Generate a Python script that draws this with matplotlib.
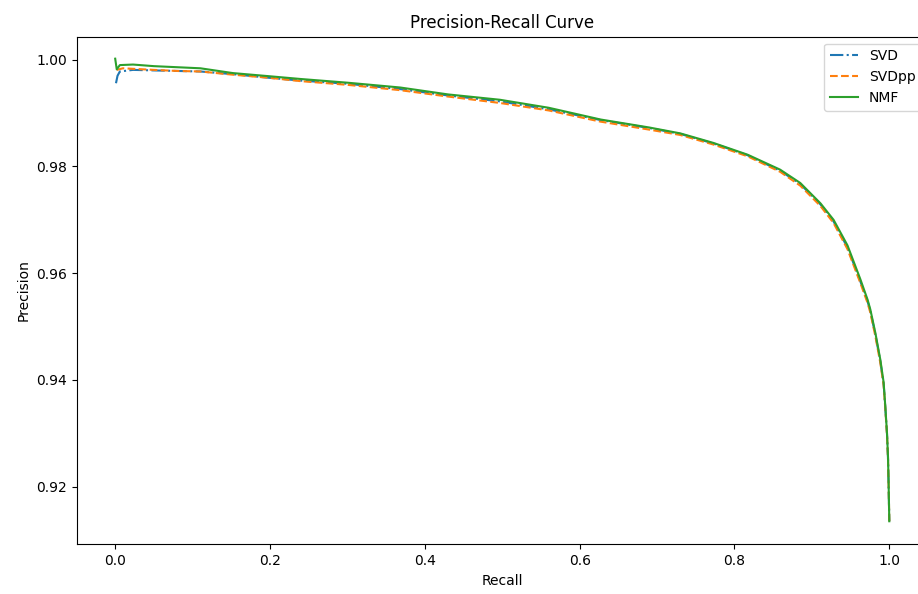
import matplotlib
matplotlib.use("Agg")
import matplotlib.pyplot as plt

# Precision-recall points per model
recall_nmf = [0.0, 0.002, 0.006, 0.023, 0.05, 0.08, 0.11, 0.152, 0.2, 0.239, 0.3, 0.368,
              0.43, 0.497, 0.56, 0.627, 0.69, 0.730, 0.773, 0.817, 0.859, 0.885, 0.911,
              0.928, 0.946, 0.9625, 0.972, 0.9755, 0.982, 0.9884, 0.9927, 0.9948, 0.997,
              0.9983, 0.9991, 1.0]
precision_nmf = [1.0002, 0.9982, 0.9990, 0.9991, 0.9988, 0.9986, 0.9984, 0.9975, 0.9969,
                 0.9964, 0.9957, 0.9948, 0.9935, 0.9925, 0.9910, 0.9888, 0.9873, 0.9862,
                 0.9844, 0.9822, 0.9794, 0.9769, 0.9731, 0.9700, 0.9652, 0.9589, 0.9550,
                 0.9532, 0.9488, 0.9438, 0.9395, 0.9351, 0.9301, 0.9257, 0.9207, 0.9135]

recall_svdpp = [0.002, 0.01, 0.023, 0.05, 0.08, 0.11, 0.152, 0.2, 0.239, 0.3, 0.368,
                0.43, 0.497, 0.56, 0.627, 0.69, 0.730, 0.773, 0.817, 0.859, 0.885, 0.911,
                0.928, 0.946, 0.9625, 0.972, 0.9755, 0.982, 0.9884, 0.9927, 0.9948, 0.997,
                0.9983, 0.9991, 1.0]
precision_svdpp = [0.9981, 0.9984, 0.9983, 0.9981, 0.9979, 0.9978, 0.9972, 0.9966, 0.9960,
                   0.9953, 0.9943, 0.9931, 0.9919, 0.9905, 0.9884, 0.9869, 0.9859, 0.9841,
                   0.9819, 0.9790, 0.9764, 0.9726, 0.9694, 0.9645, 0.9582, 0.9544, 0.9526,
                   0.9482, 0.9432, 0.9390, 0.9347, 0.9298, 0.9254, 0.9205, 0.9135]

recall_svd = [0.001, 0.003, 0.006, 0.023, 0.05, 0.08, 0.11, 0.152, 0.2, 0.239, 0.3, 0.368,
              0.43, 0.497, 0.56, 0.627, 0.69, 0.730, 0.773, 0.817, 0.859, 0.885, 0.911,
              0.928, 0.946, 0.9625, 0.972, 0.9755, 0.982, 0.9884, 0.9927, 0.9948, 0.997,
              0.9983, 0.9991, 1.0]
precision_svd = [0.9956, 0.9970, 0.9978, 0.9981, 0.9980, 0.9979, 0.9978, 0.9973, 0.9966,
                 0.9961, 0.9955, 0.9945, 0.9933, 0.9922, 0.9907, 0.9887, 0.9872, 0.9861,
                 0.9843, 0.9821, 0.9792, 0.9767, 0.9729, 0.9697, 0.9648, 0.9585, 0.9547,
                 0.9529, 0.9485, 0.9435, 0.9392, 0.9349, 0.9300, 0.9255, 0.9206, 0.9135]

W, H = 918, 594
fig = plt.figure(figsize=(W / 100, H / 100), dpi=100)
left, right, top, bottom = 76.5, 928.0, 36.7, 544.3
ax = fig.add_axes([left / W, (H - bottom) / H, (right - left) / W, (bottom - top) / H])

ax.plot(recall_svd, precision_svd, linestyle="-.", color="#1f77b4", label="SVD")
ax.plot(recall_svdpp, precision_svdpp, linestyle="--", color="#ff7f0e", label="SVDpp")
ax.plot(recall_nmf, precision_nmf, linestyle="-", color="#2ca02c", label="NMF")

ax.set_xlim(-0.05, 1.05)
ax.set_ylim(0.90918, 1.00432)
ax.set_yticks([0.92, 0.94, 0.96, 0.98, 1.00])
ax.set_xticks([0.0, 0.2, 0.4, 0.6, 0.8, 1.0])
ax.spines["right"].set_visible(False)
ax.set_title("Precision-Recall Curve")
ax.set_xlabel("Recall")
ax.set_ylabel("Precision")
ax.legend(loc="upper right")

fig.savefig("out.png", dpi=100)
